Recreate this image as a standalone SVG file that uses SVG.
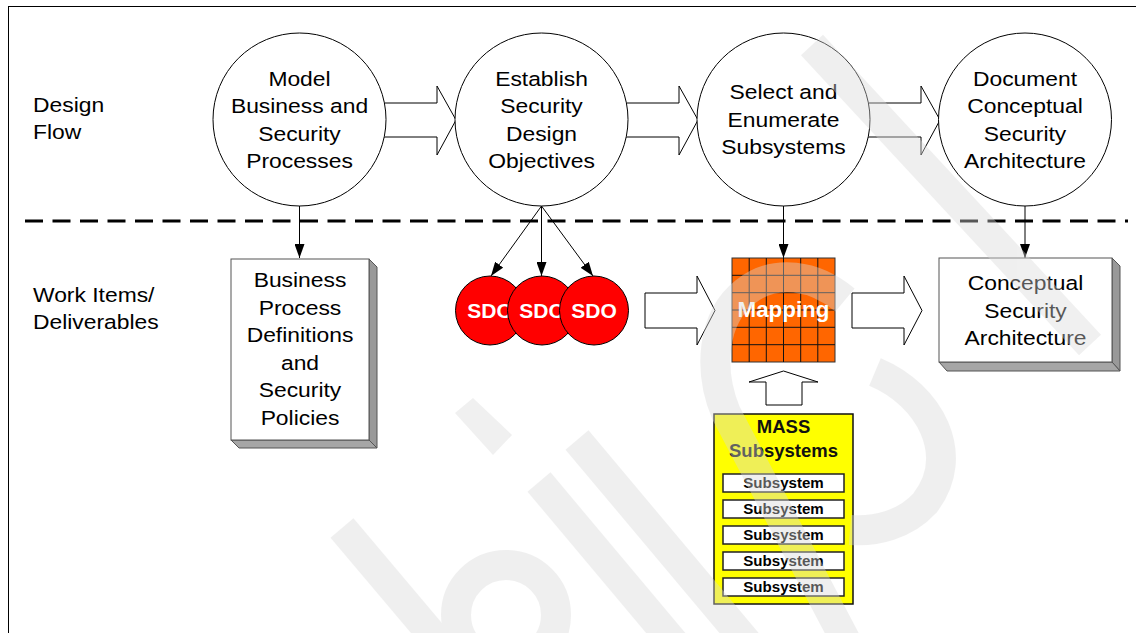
<svg xmlns="http://www.w3.org/2000/svg" width="1136" height="633" viewBox="0 0 1136 633">
  <defs>
    <marker id="tip" markerUnits="userSpaceOnUse" markerWidth="14" markerHeight="10" refX="14" refY="5" orient="auto">
      <path d="M0,0 L14,5 L0,10 Z" fill="#000"/>
    </marker>
    <style>
      .txt { font-family: "Liberation Sans", Arial, Helvetica, sans-serif; font-size: 20.5px; fill: #000; text-anchor: middle; }
      .left { text-anchor: start; }
      .bold { font-family: "Liberation Sans", Arial, Helvetica, sans-serif; font-weight: bold; text-anchor: middle; }
      .step { fill: #fff; stroke: #000; stroke-width: 1; }
      .block { fill: #fff; stroke: #000; stroke-width: 1; }
      .front { fill: #fff; stroke: #555; stroke-width: 1; }
      .side { fill: #999; stroke: #555; stroke-width: 1; stroke-linejoin: round; }
      .bottom { fill: #a6a6a6; stroke: #555; stroke-width: 1; stroke-linejoin: round; }
      .sdo { fill: #ff0000; stroke: #000; stroke-width: 1; }
      .sdotext { font-size: 21px; fill: #fff; }
      .link { stroke: #000; stroke-width: 1; fill: none; marker-end: url(#tip); }
      .sub { fill: #fff; stroke: #222; stroke-width: 1.5; }
      .subtext { font-size: 14.5px; fill: #000; }
      .wm { fill: none; stroke: #d9d9d9; stroke-width: 30; }
    </style>
  </defs>

  <!-- page frame -->
  <rect x="8.5" y="6.5" width="1140" height="640" fill="#fff" stroke="#000" stroke-width="1"/>

  <!-- row labels -->
  <g id="label-design-flow" transform="translate(33 0) scale(1.115 1)">
    <text class="txt left" x="0" y="112.5">Design</text>
    <text class="txt left" x="0" y="139.5">Flow</text>
  </g>
  <g id="label-work-items" transform="translate(33 0) scale(1.115 1)">
    <text class="txt left" x="0" y="302.5">Work Items/</text>
    <text class="txt left" x="0" y="329.5">Deliverables</text>
  </g>

  <!-- separator between the two rows -->
  <line x1="25" y1="221" x2="1128" y2="221" stroke="#000" stroke-width="3" stroke-dasharray="18 9.5"/>

  <!-- connectors -->
  <g id="connectors">
    <path class="block" d="M380,103 H437 V86 L456,120 L437,155 V137 H380 Z"/>
    <path class="block" d="M622,103 H679 V86 L698,120 L679,155 V137 H622 Z"/>
    <path class="block" d="M864,103 H921 V86 L940,120 L921,155 V137 H864 Z"/>
    <path class="block" d="M645,293 H697 V276 L715,310.5 L697,345 V328 H645 Z"/>
    <path class="block" d="M852,293 H904 V276 L922,310.5 L904,345 V328 H852 Z"/>
    <path class="block" d="M766,405 V382 H749 L783.5,371 L818,382 H802 V405 Z"/>
    <line class="link" x1="299.5" y1="206" x2="299.5" y2="258"/>
    <line class="link" x1="541.5" y1="206" x2="491" y2="276"/>
    <line class="link" x1="541.5" y1="206" x2="541.5" y2="276"/>
    <line class="link" x1="541.5" y1="206" x2="593" y2="276"/>
    <line class="link" x1="783.5" y1="206" x2="783.5" y2="258"/>
    <line class="link" x1="1025" y1="206" x2="1025" y2="258"/>
  </g>

  <!-- design flow steps -->
  <g id="step-model">
    <circle class="step" cx="299.5" cy="119.5" r="86.5"/>
    <g transform="translate(299.5 0) scale(1.115 1)">
      <text class="txt" x="0" y="86">Model</text>
      <text class="txt" x="0" y="113.5">Business and</text>
      <text class="txt" x="0" y="141">Security</text>
      <text class="txt" x="0" y="168.5">Processes</text>
    </g>
  </g>
  <g id="step-objectives">
    <circle class="step" cx="541.5" cy="119.5" r="86.5"/>
    <g transform="translate(541.5 0) scale(1.115 1)">
      <text class="txt" x="0" y="86">Establish</text>
      <text class="txt" x="0" y="113.5">Security</text>
      <text class="txt" x="0" y="141">Design</text>
      <text class="txt" x="0" y="168.5">Objectives</text>
    </g>
  </g>
  <g id="step-subsystems">
    <circle class="step" cx="783.5" cy="119.5" r="86.5"/>
    <g transform="translate(783.5 0) scale(1.115 1)">
      <text class="txt" x="0" y="99.5">Select and</text>
      <text class="txt" x="0" y="127">Enumerate</text>
      <text class="txt" x="0" y="154.5">Subsystems</text>
    </g>
  </g>
  <g id="step-document">
    <circle class="step" cx="1025" cy="119.5" r="86.5"/>
    <g transform="translate(1025 0) scale(1.115 1)">
      <text class="txt" x="0" y="86">Document</text>
      <text class="txt" x="0" y="113.5">Conceptual</text>
      <text class="txt" x="0" y="141">Security</text>
      <text class="txt" x="0" y="168.5">Architecture</text>
    </g>
  </g>

  <!-- deliverables -->
  <g id="doc-business-process">
    <polygon class="side" points="369,259 377,267 377,448 369,440"/>
    <polygon class="bottom" points="231,440 369,440 377,448 239,448"/>
    <rect class="front" x="231" y="259" width="138" height="181"/>
    <g transform="translate(300 0) scale(1.115 1)">
      <text class="txt" x="0" y="287.5">Business</text>
      <text class="txt" x="0" y="315">Process</text>
      <text class="txt" x="0" y="342.5">Definitions</text>
      <text class="txt" x="0" y="370">and</text>
      <text class="txt" x="0" y="397.5">Security</text>
      <text class="txt" x="0" y="425">Policies</text>
    </g>
  </g>

  <g id="sdo-1">
    <circle class="sdo" cx="490" cy="310.5" r="34.5"/>
    <text class="bold sdotext" x="490" y="317.5">SDO</text>
  </g>
  <g id="sdo-2">
    <circle class="sdo" cx="542" cy="310.5" r="34.5"/>
    <text class="bold sdotext" x="542" y="317.5">SDO</text>
  </g>
  <g id="sdo-3">
    <circle class="sdo" cx="594" cy="310.5" r="34.5"/>
    <text class="bold sdotext" x="594" y="317.5">SDO</text>
  </g>

  <g id="mapping">
    <rect x="732" y="258" width="103" height="104" fill="#ff6600" stroke="#333" stroke-width="1"/>
    <path d="M749.2,258 V362 M766.3,258 V362 M783.5,258 V362 M800.7,258 V362 M817.8,258 V362
             M732,275.3 H835 M732,292.7 H835 M732,310 H835 M732,327.3 H835 M732,344.7 H835"
          stroke="#111" stroke-width="1" fill="none"/>
    <text class="bold" x="783.5" y="317.5" font-size="21.5" fill="#fff" transform="translate(783.5 0) scale(1.04 1) translate(-783.5 0)">Mapping</text>
  </g>

  <g id="mass-subsystems">
    <rect x="714" y="414" width="139" height="190" fill="#ffff00" stroke="#111" stroke-width="1.5"/>
    <text class="bold" x="783.5" y="433" font-size="18.5" fill="#111">MASS</text>
    <text class="bold" x="783.5" y="457" font-size="18.5" fill="#111">Subsystems</text>
    <rect class="sub" x="723" y="474" width="121" height="18"/>
    <rect class="sub" x="723" y="500" width="121" height="18"/>
    <rect class="sub" x="723" y="526" width="121" height="18"/>
    <rect class="sub" x="723" y="552" width="121" height="18"/>
    <rect class="sub" x="723" y="578" width="121" height="18"/>
    <g transform="translate(783.5 0) scale(1.04 1)">
      <text class="bold subtext" x="0" y="488.5">Subsystem</text>
      <text class="bold subtext" x="0" y="514.5">Subsystem</text>
      <text class="bold subtext" x="0" y="540.5">Subsystem</text>
      <text class="bold subtext" x="0" y="566.5">Subsystem</text>
      <text class="bold subtext" x="0" y="592.5">Subsystem</text>
    </g>
  </g>

  <g id="doc-conceptual-architecture">
    <polygon class="side" points="1112,258 1120,266 1120,371 1112,362"/>
    <polygon class="bottom" points="939,362 1112,362 1120,371 947,371"/>
    <rect class="front" x="939" y="258" width="173" height="104"/>
    <g transform="translate(1025.5 0) scale(1.115 1)">
      <text class="txt" x="0" y="290.5">Conceptual</text>
      <text class="txt" x="0" y="318">Security</text>
      <text class="txt" x="0" y="345.5">Architecture</text>
    </g>
  </g>

  <!-- faint background watermark laid over the page -->
  <g opacity="0.4">
    <line class="wm" x1="342" y1="528" x2="445" y2="650"/>
    <circle class="wm" cx="506" cy="615" r="50"/>
    <polygon points="455,413 473,398 512,435 493,455" fill="#d9d9d9"/>
    <line class="wm" x1="539" y1="482" x2="680" y2="650"/>
    <line class="wm" x1="577" y1="440" x2="755" y2="652"/>
    <path class="wm" d="M848,645 L726,413 C708,370 712,318 745,292 C775,268 815,275 845,300"/>
    <path class="wm" d="M875,372 C930,395 962,455 925,503 C905,525 875,532 850,530"/>
    <line class="wm" stroke-width="28" x1="812" y1="45" x2="1090" y2="345"/>
  </g>
</svg>
